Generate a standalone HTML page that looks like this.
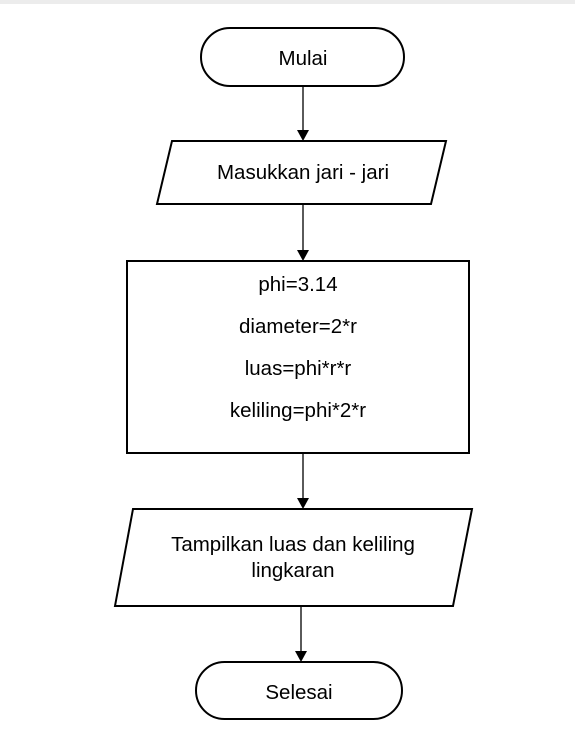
<!DOCTYPE html>
<html><head><style>
body{margin:0;background:#fff;}
svg text{font-family:"Liberation Sans",sans-serif;font-size:20.5px;fill:#000;}
</style></head><body>
<svg width="575" height="734" xmlns="http://www.w3.org/2000/svg">
<rect x="0" y="0" width="575" height="4" fill="#ececec"/>
<g stroke="#000" stroke-width="2" fill="#fff">
<rect x="201" y="28" width="203" height="58" rx="29"/>
<polygon points="172,141 446,141 431,204 157,204"/>
<rect x="127" y="261" width="342" height="192"/>
<polygon points="133,509 472,509 453,606 115,606"/>
<rect x="196" y="662" width="206" height="57" rx="28.5"/>
</g>
<g stroke="#000" stroke-width="1.3">
<line x1="303" y1="86" x2="303" y2="132"/>
<line x1="303" y1="204" x2="303" y2="252"/>
<line x1="303" y1="453" x2="303" y2="500"/>
<line x1="301" y1="606" x2="301" y2="653"/>
</g>
<g fill="#000">
<polygon points="297,130 309,130 303,141"/>
<polygon points="297,250 309,250 303,261"/>
<polygon points="297,498 309,498 303,509"/>
<polygon points="295,651 307,651 301,662"/>
</g>
<text x="303" y="65" text-anchor="middle">Mulai</text>
<text x="303" y="179" text-anchor="middle">Masukkan jari - jari</text>
<text x="298" y="291" text-anchor="middle">phi=3.14</text>
<text x="298" y="333" text-anchor="middle">diameter=2*r</text>
<text x="298" y="375" text-anchor="middle">luas=phi*r*r</text>
<text x="298" y="417" text-anchor="middle">keliling=phi*2*r</text>
<text x="293" y="551" text-anchor="middle">Tampilkan luas dan keliling</text>
<text x="293" y="577" text-anchor="middle">lingkaran</text>
<text x="299" y="699" text-anchor="middle">Selesai</text>
</svg>
</body></html>
